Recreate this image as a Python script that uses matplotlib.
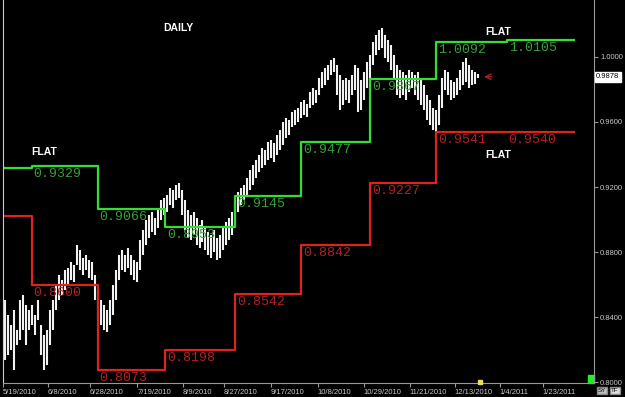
import matplotlib
matplotlib.use('Agg')
import matplotlib.pyplot as plt
from matplotlib.patches import Rectangle

# daily bars (high / low), one entry per trading day
highs = [0.8505, 0.8413, 0.8351, 0.8444, 0.8321, 0.8505, 0.8536, 0.8474, 0.8444, 0.8474,
         0.8413, 0.8505, 0.8351, 0.8290, 0.8321, 0.8444, 0.8505, 0.8598, 0.8659, 0.8628,
         0.8690, 0.8702, 0.8739, 0.8720, 0.8843, 0.8813, 0.8763, 0.8782, 0.8751, 0.8739,
         0.8659, 0.8567, 0.8505, 0.8474, 0.8444, 0.8505, 0.8598, 0.8690, 0.8782, 0.8813,
         0.8782, 0.8825, 0.8782, 0.8751, 0.8739, 0.8874, 0.8935, 0.8997, 0.9028, 0.9046,
         0.9009, 0.9059, 0.9120, 0.9132, 0.9151, 0.9194, 0.9182, 0.9212, 0.9225, 0.9182,
         0.9120, 0.9059, 0.9028, 0.9046, 0.9009, 0.8966, 0.8997, 0.8948, 0.8923, 0.8905,
         0.8935, 0.8886, 0.8905, 0.8948, 0.8985, 0.9009, 0.9046, 0.9120, 0.9169, 0.9194,
         0.9212, 0.9255, 0.9305, 0.9335, 0.9366, 0.9397, 0.9440, 0.9428, 0.9477, 0.9489,
         0.9471, 0.9520, 0.9551, 0.9600, 0.9624, 0.9612, 0.9661, 0.9674, 0.9686, 0.9723,
         0.9735, 0.9710, 0.9784, 0.9809, 0.9797, 0.9870, 0.9907, 0.9932, 0.9950, 0.9981,
         0.9993, 0.9950, 0.9889, 0.9858, 0.9870, 0.9858, 0.9889, 0.9950, 0.9932, 0.9858,
         0.9907, 0.9969, 1.0012, 1.0092, 1.0135, 1.0166, 1.0178, 1.0135, 1.0104, 1.0073,
         1.0012, 0.9950, 0.9920, 0.9907, 0.9889, 0.9920, 0.9907, 0.9889, 0.9907, 0.9870,
         0.9827, 0.9766, 0.9735, 0.9686, 0.9674, 0.9766, 0.9870, 0.9920, 0.9907, 0.9858,
         0.9846, 0.9870, 0.9920, 0.9969, 0.9993, 0.9950, 0.9920, 0.9907, 0.9895]
lows = [0.8136, 0.8167, 0.8198, 0.8075, 0.8228, 0.8259, 0.8321, 0.8228, 0.8321, 0.8351,
        0.8290, 0.8380, 0.8167, 0.8075, 0.8105, 0.8228, 0.8321, 0.8444, 0.8505, 0.8536,
        0.8567, 0.8598, 0.8628, 0.8616, 0.8720, 0.8690, 0.8659, 0.8690, 0.8640, 0.8628,
        0.8505, 0.8380, 0.8351, 0.8321, 0.8308, 0.8351, 0.8413, 0.8505, 0.8628, 0.8690,
        0.8677, 0.8702, 0.8659, 0.8628, 0.8616, 0.8690, 0.8782, 0.8843, 0.8886, 0.8923,
        0.8905, 0.8948, 0.8997, 0.9028, 0.9046, 0.9089, 0.9071, 0.9120, 0.9132, 0.9028,
        0.8935, 0.8886, 0.8874, 0.8905, 0.8843, 0.8825, 0.8862, 0.8813, 0.8782, 0.8763,
        0.8800, 0.8751, 0.8763, 0.8813, 0.8843, 0.8874, 0.8905, 0.8966, 0.9046, 0.9089,
        0.9120, 0.9151, 0.9182, 0.9212, 0.9255, 0.9292, 0.9317, 0.9335, 0.9366, 0.9378,
        0.9354, 0.9397, 0.9428, 0.9458, 0.9501, 0.9520, 0.9569, 0.9581, 0.9600, 0.9624,
        0.9643, 0.9630, 0.9686, 0.9704, 0.9717, 0.9766, 0.9809, 0.9827, 0.9858, 0.9889,
        0.9907, 0.9766, 0.9674, 0.9704, 0.9735, 0.9717, 0.9766, 0.9797, 0.9661, 0.9674,
        0.9735, 0.9809, 0.9858, 0.9950, 1.0012, 1.0043, 1.0055, 0.9993, 0.9969, 0.9920,
        0.9858, 0.9766, 0.9747, 0.9766, 0.9735, 0.9784, 0.9809, 0.9766, 0.9735, 0.9704,
        0.9674, 0.9612, 0.9581, 0.9551, 0.9538, 0.9581, 0.9686, 0.9797, 0.9766, 0.9735,
        0.9747, 0.9766, 0.9797, 0.9827, 0.9846, 0.9809, 0.9827, 0.9833, 0.9870]

# monthly resistance / support levels (start of each period, bar index)
period_start = [-0.5, 9, 31, 53.5, 77, 99, 122, 144, 167.5]
period_end = 190
resistance = [0.9318, 0.9329, 0.9066, 0.8953, 0.9145, 0.9477, 0.9867, 1.0092, 1.0105]
support = [0.9020, 0.8600, 0.8073, 0.8198, 0.8542, 0.8842, 0.9227, 0.9541, 0.9540]

date_pos = [-0.5, 14.5, 28.5, 44.2, 59.5, 73.2, 88.8, 104.5, 119.8, 135.2, 150.2, 165.2, 179.5]
date_labels = ['5/19/2010', '6/8/2010', '6/28/2010', '7/19/2010', '8/9/2010', '8/27/2010',
               '9/17/2010', '10/8/2010', '10/29/2010', '11/21/2010', '12/13/2010',
               '1/4/2011', '1/23/2011']
price_ticks = [0.80, 0.84, 0.88, 0.92, 0.96, 1.00]
last_price = 0.9878

fig = plt.figure(figsize=(6.25, 3.97), dpi=100, facecolor='black')
ax = fig.add_axes([0.005, 0.0353, 0.945, 0.9647], facecolor='black')

# price bars
ax.vlines(range(len(highs)), lows, highs, color='#f2f2f2', lw=1.5)

# step levels
xs = period_start + [period_end]
ax.step(xs, resistance + [resistance[-1]], where='post', color='#33dd33', lw=1.6)
ax.step(xs, support + [support[-1]], where='post', color='#dd2222', lw=1.6)

for i in range(1, len(period_start)):
    ax.text(period_start[i] + 0.6, resistance[i] - 0.0012, f'{resistance[i]:.4f}',
            color='#37a037', fontsize=9.5, family='Liberation Mono', va='top', ha='left')
    ax.text(period_start[i] + 0.6, support[i] - 0.0012, f'{support[i]:.4f}',
            color='#b02222', fontsize=9.5, family='Liberation Mono', va='top', ha='left')

# annotations
txt = dict(color='white', fontsize=7.5, fontweight='bold', family='Liberation Sans',
           ha='center', va='center')
ax.text(57.8, 1.0178, 'DAILY', **txt)
ax.text(13.2, 0.9415, 'FLAT', **txt)
ax.text(164.5, 1.0153, 'FLAT', **txt)
ax.text(164.5, 0.9397, 'FLAT', **txt)

ax.annotate('', xy=(159, last_price), xytext=(163.5, last_price),
            arrowprops=dict(arrowstyle='->', color='#b02020', lw=1))

ax.plot([158.5], [0.8], marker='s', ms=2.5, color='#e8e05a', clip_on=False, zorder=5)
ax.add_patch(Rectangle((0.99, 0.0), 0.01, 0.02, transform=ax.transAxes,
                       color='#22ee22', clip_on=False))

ax.set_xlim(-0.5, 196.5)
ax.set_ylim(0.7995, 1.035)

# axes styling
ax.spines['top'].set_visible(False)
ax.spines['left'].set_color('#cccccc')
ax.spines['left'].set_linewidth(0.8)
ax.spines['right'].set_color('#999999')
ax.spines['bottom'].set_color('#999999')

ax.set_xticks(date_pos)
ax.set_xticklabels(date_labels)
for lab in ax.get_xticklabels():
    lab.set_horizontalalignment('left')
    lab.set_family('Liberation Sans')
ax.tick_params(axis='x', colors='#999999', labelcolor='#c8c8c8', labelsize=5.5,
               length=3, pad=1)

ax.yaxis.tick_right()
ax.set_yticks(price_ticks)
ax.set_yticklabels([f'{v:.4f}' for v in price_ticks])
for lab in ax.get_yticklabels():
    lab.set_family('Liberation Sans')
ax.tick_params(axis='y', colors='#999999', labelcolor='#c8c8c8', labelsize=5.5,
               length=3, pad=1.5)

ax.text(1.004, last_price, f'{last_price:.4f}', transform=ax.get_yaxis_transform(),
        fontsize=5.5, family='Liberation Sans', color='black', va='center', ha='left',
        bbox=dict(boxstyle='square,pad=0.2', fc='white', ec='white'))

fig.text(0.957, 0.012, 'SY', fontsize=4.5, color='black', family='Liberation Sans',
         bbox=dict(boxstyle='square,pad=0.15', fc='#bbbbbb', ec='#888888'))
fig.text(0.978, 0.012, 'TF', fontsize=4.5, color='black', family='Liberation Sans',
         bbox=dict(boxstyle='square,pad=0.15', fc='#dddddd', ec='#888888'))

fig.savefig('out.png', dpi=100, facecolor='black')
